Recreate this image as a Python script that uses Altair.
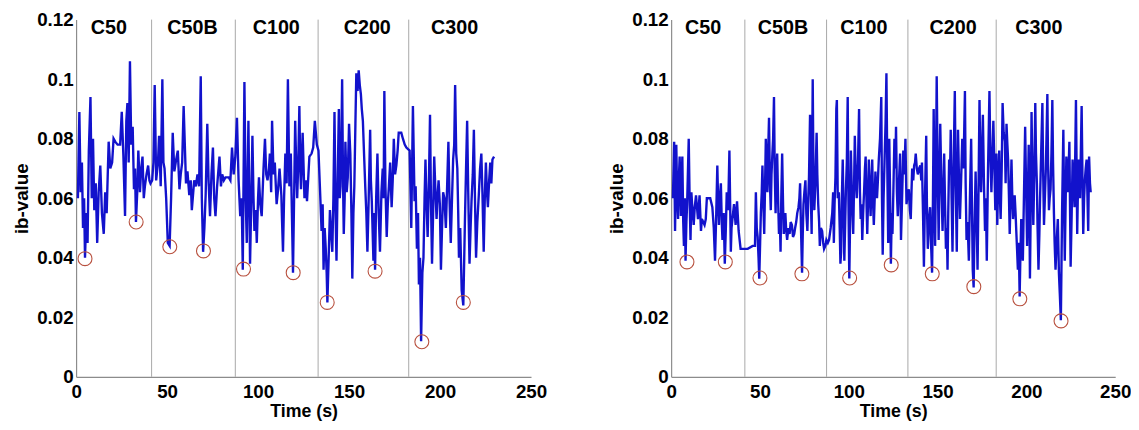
import altair as alt
import pandas as pd

# ---------------- data: left panel ----------------
t_left = [1.0, 1.8, 2.5, 3.2, 3.8, 4.4, 4.9, 5.6, 6.3, 7.0, 7.9, 8.6, 9.3, 10.0, 10.8, 11.6, 12.4, 13.3, 14.2, 15.2,
          16.0, 16.8, 17.9, 18.8, 19.8, 20.6, 21.5, 22.8, 24.2, 25.1, 26.0, 26.9, 27.6, 28.2, 28.9, 29.6, 30.3, 31.1, 31.8, 32.4,
          32.9, 33.6, 34.2, 35.1, 35.8, 36.5, 37.2, 37.8, 38.7, 39.6, 40.3, 40.9, 41.8, 42.5, 43.2, 44.0, 45.0, 45.6, 46.5, 47.4,
          48.0, 48.6, 49.5, 50.4, 51.4, 52.2, 53.1, 54.0, 55.0, 55.9, 56.8, 57.5, 58.3, 59.1, 60.4, 61.2, 62.2, 63.0, 63.6, 64.9,
          65.8, 66.7, 67.6, 68.5, 69.1, 69.8, 70.5, 71.2, 72.1, 72.8, 73.6, 74.4, 75.2, 75.9, 76.6, 77.5, 78.8, 79.6, 80.3, 81.2,
          82.1, 83.9, 84.8, 85.7, 86.6, 87.5, 88.4, 89.3, 90.2, 91.0, 91.6, 92.5, 93.2, 93.8, 94.7, 95.6, 96.3, 96.9, 97.5, 98.0,
          98.7, 99.3, 100.0, 100.5, 101.2, 102.0, 103.0, 103.8, 104.5, 105.2, 106.0, 106.5, 107.2, 107.7, 108.5, 109.2, 110.2, 111.0, 111.8, 112.8,
          113.2, 113.7, 114.3, 115.0, 115.7, 116.4, 117.2, 118.0, 118.6, 119.2, 119.8, 120.4, 121.0, 121.5, 122.1, 122.7, 123.2, 123.6, 124.5, 125.5,
          126.2, 126.9, 128.2, 129.4, 130.3, 131.2, 132.3, 133.2, 134.1, 134.9, 135.5, 136.0, 136.6, 137.2, 137.7, 138.1, 138.8, 139.5, 140.2, 140.8,
          141.4, 142.0, 142.6, 143.1, 143.8, 144.4, 144.9, 145.3, 145.8, 146.2, 146.7, 147.1, 147.6, 148.0, 148.7, 149.3, 150.0, 150.7, 151.3, 151.8,
          152.4, 152.9, 153.5, 154.0, 154.7, 155.3, 155.9, 156.5, 157.0, 157.6, 158.3, 158.9, 159.5, 160.1, 160.8, 161.6, 162.0, 162.5, 163.0, 163.4,
          163.9, 164.3, 164.9, 165.6, 166.3, 167.0, 167.8, 168.5, 169.0, 169.4, 170.0, 170.7, 171.3, 171.9, 172.6, 173.4, 174.0, 174.6, 175.3, 176.0,
          176.7, 177.3, 178.7, 179.6, 180.6, 181.5, 183.3, 184.2, 185.1, 186.0, 186.6, 187.3, 187.9, 188.4, 189.0, 189.6, 190.3, 190.9, 191.5, 192.0,
          192.6, 193.2, 193.9, 194.5, 195.0, 195.6, 196.2, 196.8, 197.5, 198.1, 198.6, 199.2, 199.9, 200.5, 201.1, 201.7, 202.4, 203.2, 203.9, 204.6,
          205.2, 205.9, 206.5, 207.2, 207.8, 208.3, 208.9, 209.5, 210.0, 210.4, 211.1, 211.9, 212.8, 213.3, 213.7, 214.3, 214.9, 215.5, 216.2, 216.8,
          217.3, 218.0, 218.6, 219.2, 219.8, 220.5, 221.3, 222.0, 222.7, 223.3, 224.0, 224.6, 225.2, 225.8, 226.3, 227.0, 227.6, 228.2, 228.8, 229.7]
v_left = [0.060, 0.089, 0.062, 0.072, 0.050, 0.060, 0.040, 0.055, 0.045, 0.076, 0.094, 0.060, 0.080, 0.056, 0.065, 0.045, 0.062, 0.071, 0.055, 0.048,
          0.062, 0.055, 0.079, 0.070, 0.072, 0.080, 0.079, 0.078, 0.078, 0.089, 0.074, 0.054, 0.086, 0.092, 0.072, 0.106, 0.078, 0.084, 0.063, 0.070,
          0.052, 0.062, 0.076, 0.062, 0.070, 0.074, 0.060, 0.064, 0.068, 0.071, 0.066, 0.065, 0.066, 0.072, 0.098, 0.066, 0.072, 0.081, 0.064, 0.100,
          0.072, 0.070, 0.060, 0.045, 0.044, 0.060, 0.082, 0.069, 0.073, 0.076, 0.063, 0.068, 0.072, 0.091, 0.065, 0.069, 0.061, 0.066, 0.056, 0.066,
          0.064, 0.068, 0.064, 0.101, 0.060, 0.042, 0.050, 0.061, 0.085, 0.066, 0.054, 0.068, 0.077, 0.060, 0.054, 0.064, 0.074, 0.064, 0.068, 0.066,
          0.067, 0.067, 0.066, 0.077, 0.068, 0.074, 0.087, 0.066, 0.054, 0.060, 0.036, 0.099, 0.060, 0.045, 0.086, 0.038, 0.060, 0.081, 0.060, 0.049,
          0.056, 0.045, 0.060, 0.067, 0.058, 0.054, 0.070, 0.080, 0.068, 0.066, 0.070, 0.075, 0.062, 0.086, 0.068, 0.072, 0.058, 0.063, 0.070, 0.061,
          0.052, 0.042, 0.060, 0.075, 0.065, 0.100, 0.064, 0.075, 0.055, 0.035, 0.060, 0.086, 0.070, 0.060, 0.072, 0.091, 0.070, 0.063, 0.082, 0.060,
          0.066, 0.059, 0.074, 0.075, 0.077, 0.086, 0.078, 0.076, 0.062, 0.049, 0.058, 0.036, 0.050, 0.043, 0.035, 0.025, 0.040, 0.056, 0.048, 0.042,
          0.060, 0.089, 0.055, 0.039, 0.068, 0.090, 0.060, 0.064, 0.080, 0.100, 0.065, 0.048, 0.060, 0.079, 0.062, 0.067, 0.085, 0.075, 0.055, 0.033,
          0.055, 0.064, 0.085, 0.102, 0.096, 0.103, 0.098, 0.095, 0.090, 0.086, 0.074, 0.064, 0.055, 0.042, 0.060, 0.083, 0.066, 0.059, 0.048, 0.039,
          0.055, 0.036, 0.060, 0.075, 0.055, 0.042, 0.062, 0.070, 0.060, 0.096, 0.064, 0.047, 0.058, 0.064, 0.072, 0.057, 0.066, 0.080, 0.068, 0.071,
          0.076, 0.082, 0.082, 0.080, 0.078, 0.077, 0.076, 0.050, 0.091, 0.059, 0.064, 0.043, 0.055, 0.031, 0.040, 0.012, 0.035, 0.040, 0.060, 0.073,
          0.058, 0.047, 0.066, 0.088, 0.060, 0.038, 0.055, 0.074, 0.062, 0.053, 0.060, 0.066, 0.058, 0.036, 0.050, 0.062, 0.060, 0.050, 0.064, 0.079,
          0.060, 0.045, 0.058, 0.073, 0.078, 0.098, 0.075, 0.070, 0.055, 0.040, 0.050, 0.029, 0.024, 0.040, 0.053, 0.070, 0.086, 0.062, 0.038, 0.050,
          0.059, 0.068, 0.083, 0.060, 0.040, 0.052, 0.061, 0.070, 0.075, 0.062, 0.042, 0.060, 0.072, 0.062, 0.057, 0.066, 0.072, 0.065, 0.073, 0.074]

# ---------------- data: right panel ----------------
t_right = [1.0, 1.7, 2.2, 2.9, 3.4, 3.9, 4.3, 4.8, 5.5, 5.9, 6.3, 6.8, 7.2, 7.7, 8.1, 8.6, 9.0, 9.9, 10.4, 10.9,
           11.4, 11.8, 12.7, 13.3, 14.0, 15.1, 16.0, 16.8, 17.3, 18.8, 19.5, 20.1, 22.0, 23.2, 24.0, 24.7, 25.4, 26.0, 26.5, 26.9,
           27.4, 28.0, 28.5, 28.9, 29.6, 30.2, 30.8, 31.3, 32.1, 32.8, 33.6, 34.0, 34.5, 35.4, 36.3, 37.1, 38.0, 39.1, 40.4, 43.1,
           45.9, 47.2, 47.7, 48.2, 48.7, 49.2, 49.6, 50.1, 50.5, 51.0, 51.4, 51.9, 52.4, 52.9, 53.3, 53.8, 54.2, 54.6, 55.1, 55.6,
           56.1, 56.5, 57.0, 57.4, 57.9, 58.3, 58.8, 59.2, 59.7, 60.2, 60.7, 61.1, 61.6, 62.0, 62.5, 63.0, 63.4, 63.9, 64.3, 64.8,
           65.3, 66.0, 66.7, 67.3, 68.0, 68.6, 69.3, 69.8, 70.4, 71.0, 71.7, 72.2, 72.6, 73.1, 73.7, 74.1, 74.5, 75.0, 75.6, 76.1,
           76.7, 77.2, 77.6, 78.2, 78.6, 79.1, 79.7, 80.1, 80.6, 81.2, 81.9, 82.3, 82.8, 83.3, 83.7, 84.3, 85.0, 85.6, 86.1, 86.8,
           87.4, 88.2, 88.9, 89.8, 90.7, 91.2, 91.6, 92.0, 92.5, 93.0, 93.3, 93.8, 94.4, 94.9, 95.3, 95.7, 96.1, 96.6, 97.1, 97.5,
           98.0, 98.4, 98.9, 99.4, 99.8, 100.3, 100.8, 101.2, 101.8, 102.5, 103.0, 103.4, 104.0, 104.5, 105.2, 105.8, 106.3, 106.7, 107.2, 107.6,
           108.1, 108.6, 109.1, 109.5, 110.0, 110.4, 110.9, 111.3, 111.8, 112.3, 112.8, 113.2, 113.7, 114.1, 114.6, 115.0, 115.5, 115.9, 116.4, 116.9,
           117.6, 118.3, 118.7, 119.1, 119.6, 120.2, 120.7, 121.2, 121.7, 122.2, 122.8, 123.3, 123.7, 124.2, 124.6, 125.2, 125.7, 126.2, 126.6, 127.1,
           127.6, 128.3, 128.9, 129.4, 130.1, 130.7, 131.3, 131.9, 132.5, 133.2, 133.8, 134.4, 134.9, 135.3, 135.7, 136.3, 136.8, 137.3, 137.7, 138.3,
           138.9, 139.6, 140.3, 140.8, 141.2, 141.8, 142.3, 142.9, 143.6, 144.0, 144.5, 145.1, 145.8, 146.3, 146.9, 147.4, 147.8, 148.2, 148.6, 149.1,
           149.5, 150.0, 150.6, 151.0, 151.5, 152.1, 152.8, 153.2, 153.7, 154.2, 154.7, 155.2, 155.6, 156.0, 156.5, 157.0, 157.4, 157.9, 158.4, 159.0,
           159.7, 160.2, 160.8, 161.1, 161.5, 162.0, 162.6, 163.2, 163.9, 164.6, 165.4, 165.8, 166.3, 166.9, 167.6, 168.2, 168.9, 169.4, 169.8, 170.3,
           170.8, 171.4, 172.0, 172.5, 173.0, 173.6, 174.0, 174.5, 175.0, 175.5, 176.1, 176.7, 177.2, 177.7, 178.4, 179.2, 179.7, 180.3, 180.9, 181.4,
           182.0, 182.5, 183.1, 183.6, 184.1, 184.7, 185.1, 185.5, 186.1, 186.6, 187.2, 187.9, 188.3, 188.8, 189.3, 189.7, 190.2, 190.6, 191.1, 191.6,
           192.0, 192.5, 193.0, 193.4, 193.9, 194.3, 194.8, 195.2, 195.7, 196.2, 196.6, 197.1, 197.5, 198.0, 198.6, 199.3, 199.8, 200.4, 200.8, 201.3,
           201.7, 202.0, 202.5, 202.9, 203.4, 203.9, 204.5, 205.0, 205.4, 205.9, 206.3, 206.8, 207.3, 207.7, 208.3, 209.0, 209.4, 209.9, 210.4, 210.9,
           211.3, 211.8, 212.2, 212.7, 213.1, 213.6, 214.1, 214.6, 215.0, 215.5, 215.9, 216.4, 217.0, 217.7, 218.3, 218.8, 219.4, 219.8, 220.1, 220.8,
           221.2, 221.6, 222.0, 222.5, 223.0, 223.4, 224.2, 224.9, 225.5, 226.0, 226.6, 227.1, 227.9, 228.3, 228.6, 229.3, 229.7, 230.2, 231.1, 231.6,
           232.0, 232.5, 232.9, 233.4, 233.9, 234.4, 234.8, 235.3, 235.8, 236.2]
v_right = [0.060, 0.079, 0.049, 0.078, 0.060, 0.053, 0.066, 0.074, 0.054, 0.064, 0.074, 0.052, 0.044, 0.060, 0.039, 0.052, 0.058, 0.080, 0.060, 0.046,
           0.062, 0.058, 0.051, 0.057, 0.061, 0.053, 0.061, 0.049, 0.053, 0.051, 0.053, 0.060, 0.060, 0.057, 0.050, 0.039, 0.055, 0.071, 0.058, 0.051,
           0.060, 0.065, 0.052, 0.046, 0.055, 0.038, 0.050, 0.062, 0.056, 0.076, 0.042, 0.050, 0.053, 0.058, 0.051, 0.059, 0.049, 0.043, 0.043, 0.043,
           0.044, 0.044, 0.062, 0.050, 0.047, 0.040, 0.033, 0.045, 0.055, 0.062, 0.071, 0.058, 0.048, 0.065, 0.080, 0.068, 0.062, 0.075, 0.087, 0.065,
           0.056, 0.068, 0.075, 0.080, 0.094, 0.070, 0.055, 0.068, 0.075, 0.060, 0.048, 0.055, 0.042, 0.060, 0.075, 0.058, 0.048, 0.052, 0.055, 0.049,
           0.046, 0.050, 0.048, 0.052, 0.051, 0.047, 0.048, 0.050, 0.052, 0.055, 0.057, 0.060, 0.065, 0.050, 0.035, 0.048, 0.058, 0.062, 0.066, 0.055,
           0.049, 0.060, 0.067, 0.088, 0.062, 0.048, 0.100, 0.070, 0.056, 0.065, 0.082, 0.068, 0.058, 0.052, 0.044, 0.050, 0.049, 0.045, 0.043, 0.044,
           0.046, 0.045, 0.046, 0.050, 0.055, 0.062, 0.045, 0.058, 0.067, 0.090, 0.093, 0.060, 0.062, 0.050, 0.038, 0.042, 0.060, 0.073, 0.055, 0.039,
           0.052, 0.063, 0.072, 0.094, 0.060, 0.033, 0.055, 0.076, 0.060, 0.048, 0.065, 0.081, 0.066, 0.060, 0.072, 0.090, 0.062, 0.053, 0.058, 0.046,
           0.055, 0.062, 0.070, 0.074, 0.058, 0.048, 0.060, 0.073, 0.062, 0.054, 0.066, 0.073, 0.058, 0.051, 0.060, 0.069, 0.062, 0.060, 0.066, 0.073,
           0.080, 0.094, 0.060, 0.041, 0.060, 0.074, 0.085, 0.102, 0.070, 0.045, 0.080, 0.060, 0.038, 0.055, 0.048, 0.065, 0.080, 0.070, 0.084, 0.062,
           0.054, 0.066, 0.075, 0.046, 0.062, 0.076, 0.068, 0.080, 0.058, 0.062, 0.063, 0.056, 0.053, 0.062, 0.070, 0.066, 0.071, 0.072, 0.075, 0.070,
           0.068, 0.070, 0.071, 0.066, 0.072, 0.055, 0.037, 0.060, 0.081, 0.058, 0.043, 0.052, 0.057, 0.045, 0.035, 0.060, 0.090, 0.065, 0.044, 0.070,
           0.101, 0.072, 0.046, 0.065, 0.085, 0.066, 0.049, 0.060, 0.075, 0.058, 0.043, 0.050, 0.036, 0.055, 0.073, 0.068, 0.083, 0.060, 0.042, 0.070,
           0.096, 0.065, 0.042, 0.060, 0.083, 0.068, 0.053, 0.065, 0.080, 0.070, 0.096, 0.065, 0.046, 0.052, 0.039, 0.060, 0.080, 0.055, 0.036, 0.030,
           0.050, 0.069, 0.052, 0.036, 0.060, 0.093, 0.075, 0.062, 0.075, 0.088, 0.065, 0.049, 0.060, 0.039, 0.070, 0.096, 0.075, 0.062, 0.075, 0.086,
           0.070, 0.056, 0.075, 0.051, 0.065, 0.076, 0.060, 0.053, 0.070, 0.092, 0.082, 0.079, 0.065, 0.085, 0.078, 0.073, 0.060, 0.048, 0.060, 0.073,
           0.062, 0.053, 0.058, 0.061, 0.055, 0.049, 0.042, 0.036, 0.045, 0.027, 0.040, 0.053, 0.045, 0.039, 0.060, 0.084, 0.065, 0.044, 0.060, 0.078,
           0.055, 0.033, 0.060, 0.089, 0.068, 0.051, 0.070, 0.092, 0.075, 0.065, 0.050, 0.036, 0.048, 0.060, 0.075, 0.092, 0.070, 0.051, 0.060, 0.069,
           0.080, 0.095, 0.072, 0.056, 0.060, 0.063, 0.075, 0.093, 0.072, 0.055, 0.045, 0.036, 0.045, 0.053, 0.035, 0.028, 0.019, 0.040, 0.056, 0.083,
           0.060, 0.039, 0.055, 0.074, 0.068, 0.062, 0.079, 0.037, 0.055, 0.073, 0.065, 0.057, 0.093, 0.068, 0.048, 0.073, 0.065, 0.060, 0.091, 0.065,
           0.048, 0.060, 0.066, 0.070, 0.073, 0.060, 0.049, 0.074, 0.065, 0.062]

# circled minima
min_t_left = [4.9, 33.0, 51.5, 70.0, 92.0, 119.3, 138.0, 164.3, 190.0, 212.8]
min_v_left = [0.0397, 0.0520, 0.0437, 0.0423, 0.0362, 0.0350, 0.0250, 0.0355, 0.0118, 0.0250]
min_t_right = [8.9, 30.5, 50.0, 73.6, 100.5, 123.9, 147.0, 170.4, 196.3, 219.5]
min_v_right = [0.0386, 0.0386, 0.0332, 0.0346, 0.0332, 0.0376, 0.0346, 0.0303, 0.0262, 0.0188]

# phase boundaries and labels
bounds_left = [41.5, 87.5, 133.0, 182.8]
bounds_right = [41.5, 87.5, 133.3, 183.0]
phase_names = ["C50", "C50B", "C100", "C200", "C300"]
phase_pos_left = [18, 64, 110, 160, 208]
phase_pos_right = [18, 63, 108.5, 158.7, 207]

FONT = "Liberation Sans"
LINE_COLOR = "#1212cc"
CIRCLE_COLOR = "#b8503e"


def panel(t, v, mt, mv, bounds, lpos, width, height):
    xs = alt.Scale(domain=[0, 250], nice=False, zero=True)
    ys = alt.Scale(domain=[0, 0.12], nice=False)
    xax = alt.Axis(values=[0, 50, 100, 150, 200, 250], title="Time (s)", format="d", labelFlush=False)
    yax = alt.Axis(values=[0, 0.02, 0.04, 0.06, 0.08, 0.1, 0.12], title="ib-value", format="~g", labelFlush=False)
    df = pd.DataFrame({"t": t, "v": v})
    line = alt.Chart(df).mark_line(color=LINE_COLOR, strokeWidth=2.4).encode(
        x=alt.X("t:Q", scale=xs, axis=xax),
        y=alt.Y("v:Q", scale=ys, axis=yax),
    )
    rules = alt.Chart(pd.DataFrame({"b": bounds})).mark_rule(color="#a8a8a8", strokeWidth=1).encode(
        x=alt.X("b:Q", scale=xs)
    )
    circ = alt.Chart(pd.DataFrame({"t": mt, "v": mv})).mark_point(
        shape="circle", size=200, filled=False, color=CIRCLE_COLOR, strokeWidth=1.1, opacity=1
    ).encode(x=alt.X("t:Q", scale=xs), y=alt.Y("v:Q", scale=ys))
    labels = alt.Chart(pd.DataFrame({"p": lpos, "name": phase_names})).mark_text(
        font=FONT, fontSize=20, fontWeight="bold", color="black", baseline="middle", align="center"
    ).encode(x=alt.X("p:Q", scale=xs), y=alt.datum(0.1172), text="name:N")
    return alt.layer(rules, line, circ, labels).properties(width=width, height=height)


left = panel(t_left, v_left, min_t_left, min_v_left, bounds_left, phase_pos_left, 461, 362)
right = panel(t_right, v_right, min_t_right, min_v_right, bounds_right, phase_pos_right, 450, 362)

chart = alt.hconcat(left, right, spacing=62).properties(
    padding={"left": 5, "top": 0, "right": 0, "bottom": 0}
).configure_view(stroke=None).configure_axis(
    grid=False,
    domainColor="#8c8c8c",
    domainWidth=1.2,
    ticks=False,
    labelFont=FONT,
    labelFontSize=19,
    labelFontWeight="bold",
    labelColor="black",
    titleFont=FONT,
    titleFontWeight="bold",
    titleColor="black",
).configure_axisX(titlePadding=1, labelPadding=6, titleFontSize=18).configure_axisY(
    titlePadding=5, labelPadding=3, titleFontSize=19
)

chart.save("out.html", embed_options={"renderer": "svg", "actions": False})
